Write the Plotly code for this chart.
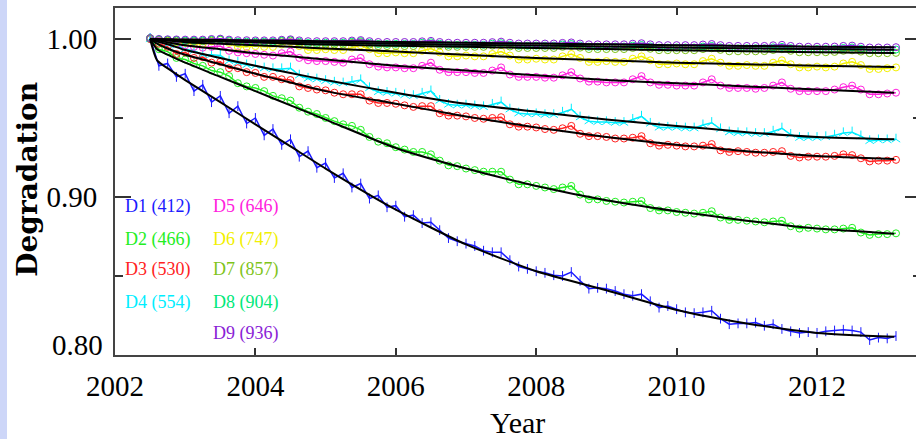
import plotly.graph_objects as go

YEARS = [2002.5, 2002.625, 2002.75, 2002.875,
         2003.0, 2003.125, 2003.25, 2003.375, 2003.5, 2003.625, 2003.75, 2003.875,
         2004.0, 2004.125, 2004.25, 2004.375, 2004.5, 2004.625, 2004.75, 2004.875,
         2005.0, 2005.125, 2005.25, 2005.375, 2005.5, 2005.625, 2005.75, 2005.875,
         2006.0, 2006.125, 2006.25, 2006.375, 2006.5, 2006.625, 2006.75, 2006.875,
         2007.0, 2007.125, 2007.25, 2007.375, 2007.5, 2007.625, 2007.75, 2007.875,
         2008.0, 2008.125, 2008.25, 2008.375, 2008.5, 2008.625, 2008.75, 2008.875,
         2009.0, 2009.125, 2009.25, 2009.375, 2009.5, 2009.625, 2009.75, 2009.875,
         2010.0, 2010.125, 2010.25, 2010.375, 2010.5, 2010.625, 2010.75, 2010.875,
         2011.0, 2011.125, 2011.25, 2011.375, 2011.5, 2011.625, 2011.75, 2011.875,
         2012.0, 2012.125, 2012.25, 2012.375, 2012.5, 2012.625, 2012.75, 2012.875,
         2013.0, 2013.125]

D1 = [1.0005, 0.9830, 0.9845, 0.9760,
      0.9780, 0.9670, 0.9710, 0.9600, 0.9640, 0.9530, 0.9575, 0.9465,
      0.9500, 0.9390, 0.9430, 0.9330, 0.9365, 0.9255, 0.9290, 0.9185,
      0.9215, 0.9120, 0.9150, 0.9060, 0.9085, 0.8990, 0.9010, 0.8935,
      0.8945, 0.8875, 0.8885, 0.8835, 0.8840, 0.8790, 0.8740, 0.8720,
      0.8705, 0.8690, 0.8660, 0.8650, 0.8650, 0.8600, 0.8560, 0.8545,
      0.8530, 0.8520, 0.8505, 0.8500, 0.8525, 0.8470, 0.8420, 0.8425,
      0.8420, 0.8405, 0.8385, 0.8375, 0.8385, 0.8340, 0.8300, 0.8310,
      0.8290, 0.8270, 0.8265, 0.8270, 0.8280, 0.8230, 0.8195, 0.8200,
      0.8200, 0.8205, 0.8185, 0.8195, 0.8165, 0.8150, 0.8140, 0.8145,
      0.8140, 0.8150, 0.8155, 0.8160, 0.8155, 0.8145, 0.8095, 0.8110,
      0.8105, 0.8120]

D2 = [1.0000, 0.9935, 0.9920, 0.9880,
      0.9870, 0.9845, 0.9830, 0.9800, 0.9790, 0.9765, 0.9720, 0.9700,
      0.9690, 0.9670, 0.9640, 0.9625, 0.9610, 0.9565, 0.9540, 0.9525,
      0.9500, 0.9480, 0.9460, 0.9450, 0.9425, 0.9380, 0.9350, 0.9340,
      0.9315, 0.9300, 0.9285, 0.9285, 0.9270, 0.9230, 0.9200, 0.9195,
      0.9180, 0.9170, 0.9160, 0.9160, 0.9160, 0.9110, 0.9080, 0.9080,
      0.9070, 0.9060, 0.9050, 0.9060, 0.9070, 0.9015, 0.8985, 0.8985,
      0.8975, 0.8970, 0.8965, 0.8970, 0.8975, 0.8930, 0.8915, 0.8915,
      0.8905, 0.8900, 0.8895, 0.8900, 0.8910, 0.8870, 0.8855, 0.8855,
      0.8850, 0.8845, 0.8840, 0.8845, 0.8850, 0.8815, 0.8800, 0.8805,
      0.8800, 0.8795, 0.8795, 0.8800, 0.8805, 0.8775, 0.8760, 0.8765,
      0.8765, 0.8770]

D3 = [1.0000, 0.9970, 0.9950, 0.9905,
      0.9915, 0.9880, 0.9885, 0.9850, 0.9855, 0.9815, 0.9815, 0.9790,
      0.9785, 0.9760, 0.9760, 0.9745, 0.9740, 0.9700, 0.9690, 0.9680,
      0.9675, 0.9660, 0.9650, 0.9650, 0.9650, 0.9610, 0.9595, 0.9595,
      0.9590, 0.9580, 0.9570, 0.9575, 0.9575, 0.9530, 0.9515, 0.9515,
      0.9510, 0.9500, 0.9495, 0.9500, 0.9505, 0.9460, 0.9445, 0.9445,
      0.9440, 0.9430, 0.9425, 0.9435, 0.9450, 0.9400, 0.9385, 0.9385,
      0.9380, 0.9370, 0.9370, 0.9375, 0.9385, 0.9340, 0.9325, 0.9330,
      0.9325, 0.9320, 0.9320, 0.9325, 0.9335, 0.9295, 0.9285, 0.9290,
      0.9285, 0.9280, 0.9280, 0.9285, 0.9290, 0.9260, 0.9250, 0.9255,
      0.9255, 0.9255, 0.9260, 0.9270, 0.9265, 0.9245, 0.9225, 0.9230,
      0.9230, 0.9235]

D4 = [1.0000, 0.9990, 0.9965, 0.9960,
      0.9935, 0.9925, 0.9900, 0.9900, 0.9895, 0.9860, 0.9850, 0.9835,
      0.9830, 0.9815, 0.9810, 0.9810, 0.9815, 0.9770, 0.9750, 0.9745,
      0.9735, 0.9725, 0.9720, 0.9730, 0.9740, 0.9690, 0.9665, 0.9660,
      0.9655, 0.9645, 0.9640, 0.9655, 0.9670, 0.9610, 0.9585, 0.9580,
      0.9580, 0.9575, 0.9570, 0.9585, 0.9600, 0.9555, 0.9530, 0.9525,
      0.9525, 0.9520, 0.9520, 0.9535, 0.9555, 0.9505, 0.9480, 0.9475,
      0.9475, 0.9470, 0.9470, 0.9490, 0.9510, 0.9465, 0.9440, 0.9440,
      0.9440, 0.9435, 0.9435, 0.9455, 0.9470, 0.9430, 0.9410, 0.9405,
      0.9405, 0.9400, 0.9400, 0.9415, 0.9435, 0.9395, 0.9375, 0.9375,
      0.9375, 0.9380, 0.9390, 0.9405, 0.9410, 0.9385, 0.9355, 0.9360,
      0.9360, 0.9365]

D5 = [1.0005, 0.9990, 0.9985, 0.9970,
      0.9960, 0.9950, 0.9945, 0.9950, 0.9955, 0.9925, 0.9915, 0.9910,
      0.9905, 0.9900, 0.9895, 0.9910, 0.9920, 0.9880, 0.9865, 0.9860,
      0.9860, 0.9855, 0.9850, 0.9870, 0.9880, 0.9840, 0.9825, 0.9820,
      0.9820, 0.9815, 0.9815, 0.9830, 0.9850, 0.9805, 0.9790, 0.9790,
      0.9790, 0.9785, 0.9785, 0.9800, 0.9820, 0.9775, 0.9760, 0.9760,
      0.9760, 0.9755, 0.9755, 0.9770, 0.9790, 0.9750, 0.9730, 0.9730,
      0.9725, 0.9725, 0.9725, 0.9745, 0.9765, 0.9725, 0.9710, 0.9710,
      0.9705, 0.9705, 0.9705, 0.9725, 0.9745, 0.9705, 0.9690, 0.9690,
      0.9690, 0.9685, 0.9690, 0.9705, 0.9725, 0.9685, 0.9670, 0.9670,
      0.9670, 0.9670, 0.9680, 0.9695, 0.9705, 0.9680, 0.9650, 0.9650,
      0.9655, 0.9660]

D6 = [1.0005, 0.9995, 0.9990, 0.9980,
      0.9975, 0.9970, 0.9970, 0.9985, 0.9995, 0.9975, 0.9950, 0.9950,
      0.9955, 0.9950, 0.9950, 0.9965, 0.9980, 0.9955, 0.9930, 0.9930,
      0.9935, 0.9930, 0.9930, 0.9945, 0.9960, 0.9935, 0.9910, 0.9910,
      0.9915, 0.9910, 0.9910, 0.9925, 0.9940, 0.9915, 0.9890, 0.9890,
      0.9895, 0.9890, 0.9890, 0.9905, 0.9920, 0.9895, 0.9870, 0.9870,
      0.9875, 0.9870, 0.9870, 0.9890, 0.9905, 0.9880, 0.9855, 0.9855,
      0.9860, 0.9855, 0.9855, 0.9875, 0.9890, 0.9865, 0.9840, 0.9840,
      0.9845, 0.9840, 0.9840, 0.9860, 0.9875, 0.9850, 0.9830, 0.9830,
      0.9835, 0.9830, 0.9830, 0.9850, 0.9865, 0.9840, 0.9820, 0.9820,
      0.9825, 0.9820, 0.9825, 0.9845, 0.9855, 0.9835, 0.9810, 0.9810,
      0.9815, 0.9820]

D7 = [1.0005, 0.9995, 0.9990, 0.9990,
      0.9985, 0.9985, 0.9985, 0.9990, 0.9995, 0.9985, 0.9975, 0.9975,
      0.9975, 0.9975, 0.9975, 0.9985, 0.9990, 0.9975, 0.9965, 0.9965,
      0.9965, 0.9965, 0.9965, 0.9975, 0.9980, 0.9965, 0.9955, 0.9955,
      0.9955, 0.9955, 0.9955, 0.9965, 0.9970, 0.9960, 0.9950, 0.9950,
      0.9950, 0.9950, 0.9950, 0.9958, 0.9963, 0.9952, 0.9943, 0.9943,
      0.9943, 0.9943, 0.9943, 0.9950, 0.9956, 0.9945, 0.9936, 0.9936,
      0.9936, 0.9936, 0.9936, 0.9943, 0.9948, 0.9938, 0.9929, 0.9929,
      0.9929, 0.9929, 0.9929, 0.9936, 0.9941, 0.9931, 0.9922, 0.9922,
      0.9922, 0.9922, 0.9923, 0.9930, 0.9935, 0.9925, 0.9916, 0.9916,
      0.9916, 0.9916, 0.9918, 0.9925, 0.9928, 0.9920, 0.9910, 0.9910,
      0.9910, 0.9912]

D8 = [1.0005, 0.9998, 0.9995, 0.9993,
      0.9990, 0.9990, 0.9990, 0.9995, 0.9998, 0.9990, 0.9983, 0.9983,
      0.9983, 0.9983, 0.9983, 0.9990, 0.9993, 0.9983, 0.9975, 0.9975,
      0.9976, 0.9976, 0.9976, 0.9983, 0.9986, 0.9976, 0.9968, 0.9968,
      0.9969, 0.9969, 0.9969, 0.9976, 0.9979, 0.9970, 0.9962, 0.9962,
      0.9963, 0.9963, 0.9963, 0.9970, 0.9973, 0.9964, 0.9957, 0.9957,
      0.9958, 0.9958, 0.9958, 0.9965, 0.9968, 0.9959, 0.9951, 0.9951,
      0.9952, 0.9952, 0.9952, 0.9958, 0.9962, 0.9953, 0.9945, 0.9945,
      0.9946, 0.9946, 0.9946, 0.9952, 0.9956, 0.9947, 0.9940, 0.9940,
      0.9941, 0.9941, 0.9941, 0.9947, 0.9950, 0.9942, 0.9935, 0.9935,
      0.9936, 0.9936, 0.9937, 0.9943, 0.9946, 0.9938, 0.9930, 0.9930,
      0.9931, 0.9933]

D9 = [1.0005, 1.0000, 0.9998, 0.9997,
      0.9996, 0.9996, 0.9996, 1.0000, 1.0002, 0.9996, 0.9992, 0.9992,
      0.9991, 0.9991, 0.9991, 0.9995, 0.9998, 0.9991, 0.9986, 0.9986,
      0.9986, 0.9986, 0.9986, 0.9990, 0.9993, 0.9986, 0.9981, 0.9981,
      0.9981, 0.9981, 0.9981, 0.9985, 0.9988, 0.9981, 0.9976, 0.9976,
      0.9976, 0.9976, 0.9976, 0.9980, 0.9983, 0.9976, 0.9971, 0.9971,
      0.9971, 0.9971, 0.9971, 0.9975, 0.9978, 0.9971, 0.9966, 0.9966,
      0.9966, 0.9966, 0.9966, 0.9970, 0.9973, 0.9966, 0.9961, 0.9961,
      0.9961, 0.9961, 0.9961, 0.9965, 0.9968, 0.9961, 0.9956, 0.9956,
      0.9956, 0.9956, 0.9956, 0.9960, 0.9963, 0.9956, 0.9951, 0.9951,
      0.9951, 0.9951, 0.9952, 0.9956, 0.9958, 0.9951, 0.9946, 0.9946,
      0.9946, 0.9948]

FIT_YEARS = [2002.5, 2002.6, 2002.8, 2003.0, 2003.5, 2004.0, 2004.5, 2005.0,
             2006.0, 2007.0, 2008.0, 2009.0, 2010.0, 2011.0, 2012.0, 2013.1]
FIT1 = [1.000, 0.9865, 0.980, 0.974, 0.960, 0.946, 0.932, 0.918, 0.892, 0.870, 0.853, 0.841, 0.8285, 0.820, 0.814, 0.8115]
FIT2 = [1.000, 0.9935, 0.989, 0.985, 0.976, 0.967, 0.958, 0.949, 0.931, 0.918, 0.907, 0.898, 0.891, 0.885, 0.880, 0.8768]
FIT3 = [1.000, 0.997, 0.993, 0.990, 0.984, 0.978, 0.9725, 0.967, 0.959, 0.951, 0.944, 0.938, 0.933, 0.929, 0.926, 0.924]
FIT4 = [1.000, 0.9985, 0.996, 0.993, 0.988, 0.983, 0.9785, 0.974, 0.966, 0.959, 0.954, 0.949, 0.945, 0.941, 0.938, 0.9365]
FIT5 = [1.000, 0.9992, 0.9975, 0.996, 0.9935, 0.991, 0.989, 0.987, 0.983, 0.980, 0.977, 0.974, 0.972, 0.970, 0.968, 0.966]
FIT6 = [1.000, 0.9996, 0.9988, 0.998, 0.997, 0.996, 0.995, 0.994, 0.992, 0.990, 0.988, 0.9865, 0.985, 0.984, 0.983, 0.9822]
FIT7 = [1.000, 0.9997, 0.9992, 0.9988, 0.9984, 0.998, 0.997, 0.9965, 0.9957, 0.995, 0.9943, 0.9936, 0.9929, 0.9922, 0.9916, 0.9911]
FIT8 = [1.000, 0.9998, 0.9995, 0.9991, 0.9987, 0.9983, 0.998, 0.9976, 0.997, 0.9964, 0.9958, 0.9952, 0.9946, 0.9941, 0.9936, 0.9932]
FIT9 = [1.000, 0.9999, 0.9998, 0.9996, 0.9994, 0.9991, 0.9989, 0.9986, 0.9981, 0.9976, 0.9971, 0.9966, 0.9961, 0.9956, 0.9951, 0.9947]

NAMES = ["D1 (412)", "D2 (466)", "D3 (530)", "D4 (554)", "D5 (646)",
         "D6 (747)", "D7 (857)", "D8 (904)", "D9 (936)"]
COLORS = ["#1a1aff", "#22ee22", "#ff2222", "#00eeff", "#ff22dd",
          "#f2f000", "#7fc41a", "#00e87a", "#8a22d6"]
SERIES = [D1, D2, D3, D4, D5, D6, D7, D8, D9]
FITS = [FIT1, FIT2, FIT3, FIT4, FIT5, FIT6, FIT7, FIT8, FIT9]
SYMBOLS = ["line-ns-open", "circle-open", "circle-open", "y-up-open", "circle-open",
           "circle-open", "circle-open", "circle-open", "circle-open"]
Y_TICKS = [0.80, 0.90, 1.00]
Y_TICK_TEXT = ["0.80", "0.90", "1.00"]
X_TICKS = [2002, 2004, 2006, 2008, 2010, 2012]

for s in SERIES:
    assert len(s) == len(YEARS), len(s)

fig = go.Figure()
for vals, col, sym in zip(SERIES, COLORS, SYMBOLS):
    fig.add_trace(go.Scatter(
        x=YEARS, y=vals, mode="lines+markers",
        line=dict(color=col, width=1.5),
        marker=dict(symbol=sym, size=7, color=col, line=dict(color=col, width=1)),
        showlegend=False, hoverinfo="skip"))
for fit in FITS:
    fig.add_trace(go.Scatter(
        x=FIT_YEARS, y=fit, mode="lines",
        line=dict(color="black", width=2, shape="spline", smoothing=0.6),
        showlegend=False, hoverinfo="skip"))
# right-side ticks
fig.add_trace(go.Scatter(x=[None], y=[None], yaxis="y2", showlegend=False))

YR = [0.80, 1.0196]
XR = [2002.0, 2013.41]
tickfont = dict(family="Liberation Serif", size=29, color="black")

fig.update_layout(
    width=916, height=439,
    margin=dict(l=115, r=0, t=8, b=84),
    paper_bgcolor="white", plot_bgcolor="white",
    xaxis=dict(range=XR, tickvals=X_TICKS, ticktext=[str(v) for v in X_TICKS],
               ticks="inside", ticklen=7, tickwidth=1.5, tickcolor="#333",
               showline=True, linecolor="#444", linewidth=2, mirror="ticks",
               showgrid=False, zeroline=False, tickfont=tickfont,
               ticklabelstandoff=4),
    yaxis=dict(range=YR, tickvals=Y_TICKS,
               ticktext=["", Y_TICK_TEXT[1], Y_TICK_TEXT[2]],
               ticks="inside", ticklen=16, tickwidth=1.5, tickcolor="#333",
               minor=dict(tickvals=[0.85, 0.95], ticks="inside", ticklen=8,
                          tickwidth=1.5, tickcolor="#333"),
               showline=True, linecolor="#444", linewidth=2, mirror=False,
               showgrid=False, zeroline=False, tickfont=tickfont,
               ticklabelstandoff=10),
    yaxis2=dict(range=YR, overlaying="y", side="right", anchor="x",
                tickvals=Y_TICKS, ticks="inside", ticklen=11,
                tickwidth=1.5, tickcolor="#333", showticklabels=False,
                minor=dict(tickvals=[0.85, 0.95], ticks="inside", ticklen=3,
                           tickwidth=1.5, tickcolor="#333"),
                showline=False, showgrid=False, zeroline=False),
)

# bottom y tick label sits slightly above its tick, as in the reference
fig.add_annotation(text=Y_TICK_TEXT[0], xref="paper", yref="y", x=0, y=Y_TICKS[0],
                   xanchor="right", yanchor="middle", xshift=-10, yshift=10,
                   showarrow=False, font=tickfont)

# left light strip of the page background
fig.add_shape(type="rect", xref="paper", yref="paper",
              x0=-115/801, x1=-108/801, y0=-84/347, y1=1+8/347,
              fillcolor="#cdd6f8", line=dict(width=0), layer="below")

# axis titles
fig.add_annotation(text="Year", xref="paper", yref="paper", x=0.503, y=-0.194,
                   xanchor="center", yanchor="middle", showarrow=False,
                   font=dict(family="Liberation Serif", size=30, color="black"))
fig.add_annotation(text="<b>Degradation</b>", xref="paper", yref="paper",
                   x=-87/801, y=0.505, textangle=-90, xanchor="center",
                   yanchor="middle", showarrow=False,
                   font=dict(family="DejaVu Serif", size=28, color="black"))

# channel labels
label_pos = [(2002.114, 0.8937), (2002.114, 0.8734), (2002.114, 0.8538), (2002.114, 0.8335),
             (2003.368, 0.8937), (2003.368, 0.8734), (2003.368, 0.8538), (2003.368, 0.8335),
             (2003.368, 0.8139)]
for name, col, (lx, ly) in zip(NAMES, COLORS, label_pos):
    fig.add_annotation(text=name, x=lx, y=ly, xref="x", yref="y",
                       xanchor="left", yanchor="middle", showarrow=False,
                       font=dict(family="Liberation Serif", size=18, color=col))

fig.write_html("out.html")
